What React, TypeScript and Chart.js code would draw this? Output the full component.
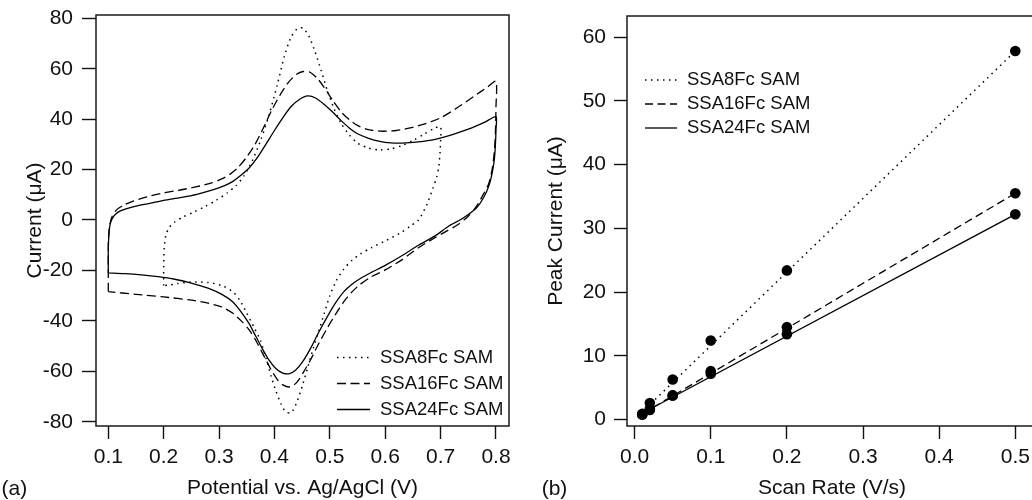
import React, { useEffect, useRef } from 'react';
import { Chart, registerables } from 'chart.js';

Chart.register(...registerables);

const FONT = '"Liberation Sans", Arial, Helvetica, sans-serif';
const INK = '#111111';

// ---------- Panel (a): cyclic voltammograms ----------
const seriesLabels = ['SSA8Fc SAM', 'SSA16Fc SAM', 'SSA24Fc SAM'];

const ssa8ForwardPotential = [0.200, 0.200, 0.201, 0.204, 0.210, 0.220, 0.235, 0.255, 0.275, 0.295, 0.315, 0.330, 0.345, 0.360, 0.375, 0.390, 0.405, 0.418, 0.430, 0.442, 0.452, 0.462, 0.472, 0.484, 0.496, 0.508, 0.520, 0.535, 0.550, 0.570, 0.590, 0.610, 0.630, 0.650, 0.670, 0.690, 0.700];
const ssa8ForwardCurrent = [-26.0, -18.0, -11.0, -6.0, -3.0, -0.8, 1.2, 3.2, 5.4, 7.8, 10.8, 13.5, 17.5, 23.5, 31.5, 41.5, 53.5, 65.0, 72.5, 76.0, 76.0, 73.0, 67.5, 59.5, 51.0, 44.0, 38.5, 33.8, 30.5, 28.5, 27.8, 28.2, 29.5, 31.5, 34.0, 36.5, 37.0];
const ssa8ReversePotential = [0.700, 0.699, 0.697, 0.693, 0.686, 0.675, 0.660, 0.645, 0.630, 0.600, 0.575, 0.555, 0.540, 0.525, 0.512, 0.500, 0.490, 0.480, 0.470, 0.460, 0.450, 0.440, 0.430, 0.420, 0.412, 0.403, 0.394, 0.385, 0.375, 0.363, 0.350, 0.338, 0.325, 0.305, 0.280, 0.250, 0.225, 0.210, 0.200];
const ssa8ReverseCurrent = [32.0, 27.0, 21.5, 17.0, 12.5, 6.0, 0.0, -2.5, -4.8, -8.3, -11.0, -13.5, -16.0, -19.5, -24.0, -30.0, -37.0, -44.0, -51.0, -58.5, -66.0, -72.5, -76.5, -76.0, -73.0, -68.0, -62.0, -55.0, -48.0, -42.5, -37.0, -32.0, -28.5, -26.0, -24.8, -24.6, -25.2, -25.8, -26.0];

const ssa16ForwardPotential = [0.100, 0.100, 0.100, 0.101, 0.103, 0.107, 0.115, 0.127, 0.145, 0.170, 0.200, 0.230, 0.260, 0.285, 0.305, 0.320, 0.335, 0.350, 0.365, 0.380, 0.395, 0.410, 0.425, 0.440, 0.452, 0.465, 0.478, 0.490, 0.505, 0.520, 0.535, 0.550, 0.570, 0.595, 0.620, 0.645, 0.670, 0.700, 0.730, 0.760, 0.785, 0.800];
const ssa16ForwardCurrent = [-28.4, -18.0, -10.0, -5.0, -1.5, 1.5, 4.0, 5.8, 7.5, 9.2, 10.7, 11.9, 13.2, 14.6, 16.3, 18.2, 21.0, 25.0, 30.0, 36.5, 43.5, 49.5, 54.5, 57.8, 58.9, 58.5, 56.0, 52.5, 47.5, 43.0, 39.8, 37.5, 35.8, 35.2, 35.5, 36.5, 38.0, 40.5, 44.5, 49.0, 52.8, 55.0];
const ssa16ReversePotential = [0.800, 0.799, 0.797, 0.793, 0.787, 0.778, 0.765, 0.750, 0.730, 0.710, 0.690, 0.660, 0.630, 0.600, 0.575, 0.555, 0.540, 0.525, 0.510, 0.495, 0.480, 0.465, 0.452, 0.440, 0.428, 0.416, 0.405, 0.393, 0.380, 0.367, 0.354, 0.340, 0.325, 0.305, 0.280, 0.250, 0.200, 0.150, 0.100];
const ssa16ReverseCurrent = [45.0, 35.0, 27.0, 20.0, 14.5, 10.5, 5.5, 1.5, -2.0, -4.5, -7.0, -11.0, -15.8, -19.8, -22.5, -25.5, -28.5, -32.5, -37.5, -43.0, -49.0, -55.5, -60.5, -64.5, -66.2, -65.5, -63.2, -59.0, -53.5, -48.0, -43.5, -40.0, -37.0, -34.5, -33.0, -31.8, -30.5, -29.5, -28.4];

const ssa24ForwardPotential = [0.100, 0.100, 0.101, 0.103, 0.107, 0.113, 0.122, 0.135, 0.150, 0.175, 0.200, 0.230, 0.260, 0.290, 0.310, 0.325, 0.340, 0.355, 0.370, 0.385, 0.400, 0.415, 0.430, 0.445, 0.460, 0.475, 0.490, 0.505, 0.520, 0.535, 0.550, 0.570, 0.590, 0.610, 0.630, 0.660, 0.690, 0.720, 0.750, 0.780, 0.800];
const ssa24ForwardCurrent = [-21.0, -12.0, -6.0, -2.0, 0.5, 2.3, 3.6, 4.6, 5.5, 6.6, 7.8, 8.9, 10.2, 12.0, 13.6, 15.3, 17.8, 20.8, 25.0, 30.2, 35.5, 40.5, 45.0, 47.8, 49.2, 48.3, 45.8, 42.8, 39.5, 36.5, 34.2, 32.4, 31.2, 30.6, 30.5, 31.0, 32.0, 33.8, 36.0, 38.8, 41.0];
const ssa24ReversePotential = [0.800, 0.799, 0.797, 0.793, 0.787, 0.778, 0.765, 0.750, 0.735, 0.715, 0.690, 0.660, 0.630, 0.600, 0.575, 0.555, 0.540, 0.525, 0.510, 0.495, 0.480, 0.465, 0.450, 0.438, 0.426, 0.414, 0.402, 0.390, 0.378, 0.366, 0.354, 0.340, 0.325, 0.305, 0.280, 0.250, 0.220, 0.190, 0.160, 0.130, 0.100];
const ssa24ReverseCurrent = [36.0, 30.0, 24.0, 18.5, 13.5, 9.0, 4.8, 2.2, 0.0, -2.4, -6.3, -10.0, -14.2, -18.0, -20.8, -23.2, -25.5, -28.5, -33.0, -38.5, -44.5, -51.0, -56.5, -59.6, -61.0, -60.6, -58.8, -55.5, -51.0, -46.0, -41.0, -36.5, -32.5, -29.5, -27.0, -25.0, -23.5, -22.5, -21.8, -21.3, -21.0];

const potentialTicks = [0.1, 0.2, 0.3, 0.4, 0.5, 0.6, 0.7, 0.8];
const currentTicks = [-80, -60, -40, -20, 0, 20, 40, 60, 80];

// ---------- Panel (b): peak current vs scan rate ----------
const scanRates = [0.01, 0.02, 0.05, 0.1, 0.2, 0.5];
const ssa8Peak = [0.9, 2.6, 6.3, 12.4, 23.4, 57.8];
const ssa16Peak = [0.8, 1.7, 3.8, 7.6, 14.5, 35.5];
const ssa24Peak = [0.8, 1.5, 3.8, 7.2, 13.4, 32.2];

const fitRateEnds = [0.01, 0.5];
const ssa8FitEnds = [1.2, 57.8];
const ssa16FitEnds = [0.9, 35.5];
const ssa24FitEnds = [1.0, 32.2];

const scanRateTicks = [0, 0.1, 0.2, 0.3, 0.4, 0.5];
const peakTicks = [0, 10, 20, 30, 40, 50, 60];

// ---------- helpers ----------
type Pt = { x: number; y: number };
const toPoints = (xs: number[], ys: number[]): Pt[] => xs.map((x, i) => ({ x, y: ys[i] }));

const DOT = [1.5, 4.5];
const DASH = [9, 4.5];
const SOLID: number[] = [];

const axisFont = { family: FONT, size: 21 };

const fixWidth = (w: number) => (s: any) => {
  s.width = w;
  s.paddingTop = 0;
  s.paddingBottom = 0;
};
const fixHeight = (h: number) => (s: any) => {
  s.height = h;
  s.paddingLeft = 0;
  s.paddingRight = 0;
};

const framePlugin = {
  id: 'frame',
  beforeDatasetsDraw(chart: any) {
    const { ctx, chartArea: a } = chart;
    ctx.save();
    ctx.strokeStyle = '#1a1a1a';
    ctx.lineWidth = 1.5;
    ctx.strokeRect(a.left, a.top, a.right - a.left, a.bottom - a.top);
    ctx.restore();
  },
};

const makeLegendPlugin = (x0: number, y0: number, dy: number, sampleLen: number, gap: number, fontSize: number, indices: number[]) => ({
  id: 'inlineLegend',
  afterDraw(chart: any) {
    const ctx = chart.ctx;
    ctx.save();
    indices.forEach((di, i) => {
      const ds = chart.data.datasets[di];
      const y = y0 + i * dy;
      ctx.beginPath();
      ctx.setLineDash(ds.borderDash || []);
      ctx.lineWidth = ds.borderWidth;
      ctx.strokeStyle = ds.borderColor;
      ctx.moveTo(x0, y);
      ctx.lineTo(x0 + sampleLen, y);
      ctx.stroke();
      ctx.setLineDash([]);
      ctx.font = `${fontSize}px ${FONT}`;
      ctx.fillStyle = INK;
      ctx.textAlign = 'left';
      ctx.textBaseline = 'middle';
      ctx.fillText(ds.label, x0 + sampleLen + gap, y);
    });
    ctx.restore();
  },
});

const makeTagPlugin = (text: string, x: number, y: number) => ({
  id: 'panelTag',
  afterDraw(chart: any) {
    const ctx = chart.ctx;
    ctx.save();
    ctx.font = `21px ${FONT}`;
    ctx.fillStyle = INK;
    ctx.textAlign = 'left';
    ctx.textBaseline = 'middle';
    ctx.fillText(text, x, y);
    ctx.restore();
  },
});

const cvDataset = (label: string, xs1: number[], ys1: number[], xs2: number[], ys2: number[], dash: number[], width: number) => ({
  label,
  data: toPoints(xs1.concat(xs2), ys1.concat(ys2)),
  showLine: true,
  borderColor: '#000',
  borderWidth: width,
  borderDash: dash,
  pointRadius: 0,
  tension: 0.25,
  fill: false,
});

function configA(): any {
  return {
    type: 'scatter',
    data: {
      datasets: [
        cvDataset(seriesLabels[0], ssa8ForwardPotential, ssa8ForwardCurrent, ssa8ReversePotential, ssa8ReverseCurrent, DOT, 1.5),
        cvDataset(seriesLabels[1], ssa16ForwardPotential, ssa16ForwardCurrent, ssa16ReversePotential, ssa16ReverseCurrent, DASH, 1.3),
        cvDataset(seriesLabels[2], ssa24ForwardPotential, ssa24ForwardCurrent, ssa24ReversePotential, ssa24ReverseCurrent, SOLID, 1.3),
      ],
    },
    options: {
      responsive: false,
      animation: false,
      events: [],
      layout: { padding: { left: 0, top: 15, right: 11, bottom: 0 } },
      plugins: { legend: { display: false }, tooltip: { enabled: false } },
      scales: {
        x: {
          type: 'linear',
          position: 'bottom',
          min: 0.0778,
          max: 0.8235,
          afterBuildTicks: (s: any) => { s.ticks = potentialTicks.map((v) => ({ value: v })); },
          afterFit: fixHeight(74),
          ticks: { color: INK, font: axisFont, padding: 6, autoSkip: false, maxRotation: 0, callback: (v: any) => Number(v).toFixed(1) },
          grid: { drawOnChartArea: false, drawTicks: true, tickLength: 13, tickColor: INK, tickWidth: 1.4 },
          border: { display: false },
          title: { display: true, text: 'Potential vs. Ag/AgCl (V)', color: INK, font: axisFont, padding: { top: 0, bottom: -1 } },
        },
        y: {
          type: 'linear',
          position: 'left',
          min: -81.7,
          max: 81.3,
          afterBuildTicks: (s: any) => { s.ticks = currentTicks.map((v) => ({ value: v })); },
          afterFit: fixWidth(96),
          ticks: { color: INK, font: axisFont, padding: 9, autoSkip: false },
          grid: { drawOnChartArea: false, drawTicks: true, tickLength: 14, tickColor: INK, tickWidth: 1.4 },
          border: { display: false },
          title: { display: true, text: 'Current (μA)', color: INK, font: axisFont, padding: { top: 23, bottom: 0 } },
        },
      },
    },
    plugins: [framePlugin, makeLegendPlugin(337, 357.5, 26, 33, 10, 18.5, [0, 1, 2]), makeTagPlugin('(a)', 1.5, 489)],
  };
}

const fitDataset = (label: string, ys: number[], dash: number[], width: number) => ({
  label,
  data: toPoints(fitRateEnds, ys),
  showLine: true,
  borderColor: '#000',
  borderWidth: width,
  borderDash: dash,
  pointRadius: 0,
  fill: false,
});

const markerDataset = (label: string, ys: number[]) => ({
  label,
  data: toPoints(scanRates, ys),
  showLine: false,
  pointRadius: 5.3,
  pointBackgroundColor: '#000',
  pointBorderColor: '#000',
  pointBorderWidth: 0,
});

function configB(): any {
  return {
    type: 'scatter',
    data: {
      datasets: [
        fitDataset(seriesLabels[0], ssa8FitEnds, DOT, 1.5),
        fitDataset(seriesLabels[1], ssa16FitEnds, [8, 4.5], 1.3),
        fitDataset(seriesLabels[2], ssa24FitEnds, SOLID, 1.3),
        markerDataset(seriesLabels[0], ssa8Peak),
        markerDataset(seriesLabels[1], ssa16Peak),
        markerDataset(seriesLabels[2], ssa24Peak),
      ],
    },
    options: {
      responsive: false,
      animation: false,
      events: [],
      layout: { padding: { left: 0, top: 16, right: 23, bottom: 0 } },
      plugins: { legend: { display: false }, tooltip: { enabled: false } },
      scales: {
        x: {
          type: 'linear',
          position: 'bottom',
          min: -0.01,
          max: 0.5285,
          afterBuildTicks: (s: any) => { s.ticks = scanRateTicks.map((v) => ({ value: v })); },
          afterFit: fixHeight(74),
          ticks: { color: INK, font: axisFont, padding: 6, autoSkip: false, maxRotation: 0, callback: (v: any) => Number(v).toFixed(1) },
          grid: { drawOnChartArea: false, drawTicks: true, tickLength: 13, tickColor: INK, tickWidth: 1.4 },
          border: { display: false },
          title: { display: true, text: 'Scan Rate (V/s)', color: INK, font: axisFont, padding: { top: 0, bottom: -1 } },
        },
        y: {
          type: 'linear',
          position: 'left',
          min: -1.0,
          max: 63.3,
          afterBuildTicks: (s: any) => { s.ticks = peakTicks.map((v) => ({ value: v })); },
          afterFit: fixWidth(107),
          ticks: { color: INK, font: axisFont, padding: 8, autoSkip: false },
          grid: { drawOnChartArea: false, drawTicks: true, tickLength: 13, tickColor: INK, tickWidth: 1.4 },
          border: { display: false },
          title: { display: true, text: 'Peak Current (μA)', color: INK, font: axisFont, padding: { top: 24, bottom: 0 } },
        },
      },
    },
    plugins: [framePlugin, makeLegendPlugin(125, 80, 24, 32, 10, 18.5, [0, 1, 2]), makeTagPlugin('(b)', 21.7, 489)],
  };
}

function ChartCanvas({ make, width, height, left }: { make: () => any; width: number; height: number; left: number }) {
  const ref = useRef<HTMLCanvasElement>(null);
  useEffect(() => {
    if (!ref.current) return;
    const chart = new Chart(ref.current, make());
    return () => chart.destroy();
  }, [make]);
  return (
    <canvas
      ref={ref}
      width={width}
      height={height}
      style={{ position: 'absolute', left, top: 0, width, height, display: 'block' }}
    />
  );
}

export default function App() {
  return (
    <div style={{ position: 'fixed', left: 0, top: 0, width: 1032, height: 500, overflow: 'hidden', background: '#ffffff' }}>
      <ChartCanvas make={configA} width={520} height={500} left={0} />
      <ChartCanvas make={configB} width={540} height={500} left={520} />
    </div>
  );
}
